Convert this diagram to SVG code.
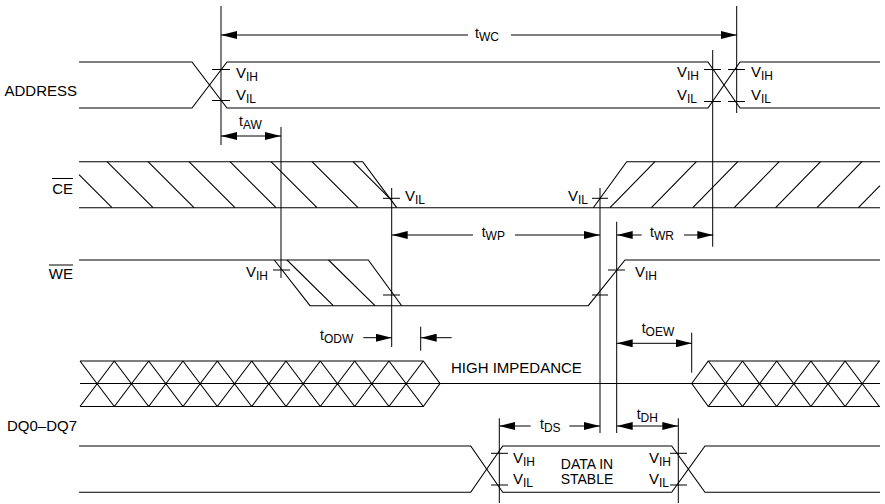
<svg xmlns="http://www.w3.org/2000/svg" width="885" height="504" viewBox="0 0 885 504">
<style>
.s{fill:none;stroke:#000;stroke-width:1.1}
.h{fill:none;stroke:#000;stroke-width:1.1}
.d{fill:none;stroke:#000;stroke-width:1}
text{font-family:"Liberation Sans",Arial,Helvetica,sans-serif;fill:#000}
.lbl{font-size:15px}
.v{font-size:15px}
.t{font-size:14px}
.sub{font-size:12px}
.dim{fill:none;stroke:#000;stroke-width:1;marker-end:url(#ah)}
.dim2{fill:none;stroke:#000;stroke-width:1;marker-start:url(#ah)}
.dim3{fill:none;stroke:#000;stroke-width:1;marker-start:url(#ah);marker-end:url(#ah)}
</style>
<defs>
<marker id="ah" viewBox="0 0 16 8" refX="16" refY="4" markerWidth="16" markerHeight="8" markerUnits="userSpaceOnUse" orient="auto-start-reverse"><path d="M0,0 L16,4 L0,8 z" fill="#000"/></marker>
</defs>
<rect width="885" height="504" fill="#fff"/>

<g id="labels">
<text class="lbl" x="77" y="95.5" text-anchor="end">ADDRESS</text>
<text class="lbl" x="73" y="194" text-anchor="end">CE</text>
<line class="d" x1="52" y1="178.5" x2="73" y2="178.5"/>
<text class="lbl" x="73" y="279" text-anchor="end">WE</text>
<line class="d" x1="49" y1="265" x2="73" y2="265"/>
<text class="lbl" x="77" y="430.5" text-anchor="end">DQ0–DQ7</text>
</g>

<g id="address">
<path class="s" d="M79,62 H192 L227,108 H708 L740,62 H880"/>
<path class="s" d="M79,108 H192 L227,62 H708 L740,108 H880"/>
<path class="d" d="M212,69.5 H230 M212,100.5 H230 M704,69.5 H721 M728,69.5 H745 M704,101.5 H721 M728,101.5 H745"/>
<text class="v" x="236" y="78">V<tspan class="sub" dy="3">IH</tspan></text>
<text class="v" x="236" y="100">V<tspan class="sub" dy="3">IL</tspan></text>
<text class="v" x="677" y="77">V<tspan class="sub" dy="3">IH</tspan></text>
<text class="v" x="677" y="100">V<tspan class="sub" dy="3">IL</tspan></text>
<text class="v" x="751" y="77">V<tspan class="sub" dy="3">IH</tspan></text>
<text class="v" x="751" y="100">V<tspan class="sub" dy="3">IL</tspan></text>
</g>

<g id="ce">
<path class="s" d="M79,161.7 H362.7 L396.7,207.7"/>
<path class="s" d="M79,207.7 H880"/>
<path class="s" d="M593.3,207.7 L626.7,161.7 H880"/>
<path class="h" d="M79,174.7 L112,207.7 M107,161.7 L153,207.7 M148,161.7 L194,207.7 M189,161.7 L235,207.7 M230,161.7 L276,207.7 M271,161.7 L317,207.7 M312,161.7 L358,207.7 M353,161.7 L390.2,198.9"/>
<path class="h" d="M610,207.7 L655,161.7 M651.4,207.7 L696.4,161.7 M692.8,207.7 L737.8,161.7 M734.2,207.7 L779.2,161.7 M775.6,207.7 L820.6,161.7 M817,207.7 L862,161.7 M858.4,207.7 L880,185.6"/>
<path class="d" d="M383,198.3 H400 M592,198.3 H608"/>
<text class="v" x="405" y="201">V<tspan class="sub" dy="3">IL</tspan></text>
<text class="v" x="568" y="201">V<tspan class="sub" dy="3">IL</tspan></text>
</g>

<g id="we">
<path class="s" d="M79,260 H368.3 L401.7,305.7"/>
<path class="s" d="M274.3,260 L310,305.7 H588.3 L625,260 H880"/>
<path class="h" d="M287,260 L333.3,305.7 M328.5,260 L375,305.7"/>
<path class="d" d="M273,270 H290 M383,295 H400 M592,295 H608 M608,270 H625"/>
<text class="v" x="246" y="277">V<tspan class="sub" dy="3">IH</tspan></text>
<text class="v" x="635" y="277">V<tspan class="sub" dy="3">IH</tspan></text>
</g>

<g id="dq-bus">
<path class="s" d="M80,361 H423.3 L440,383.5 L423.3,406.5 H80"/>
<path class="s" d="M80,383.5 H691.7 M691.7,383.5 L708.3,361 H880 M691.7,383.5 L708.3,406.5 H880 M691.7,383.5 H880"/>
<path class="h" d="M80,361 L114.3,406.5 M80,406.5 L114.3,361 M114.3,361 L148.7,406.5 M114.3,406.5 L148.7,361 M148.7,361 L183,406.5 M148.7,406.5 L183,361 M183,361 L217.3,406.5 M183,406.5 L217.3,361 M217.3,361 L251.7,406.5 M217.3,406.5 L251.7,361 M251.7,361 L286,406.5 M251.7,406.5 L286,361 M286,361 L320.3,406.5 M286,406.5 L320.3,361 M320.3,361 L354.7,406.5 M320.3,406.5 L354.7,361 M354.7,361 L389,406.5 M354.7,406.5 L389,361 M389,361 L423.3,406.5 M389,406.5 L423.3,361"/>
<path class="h" d="M708.3,361 L742.5,406.5 M708.3,406.5 L742.5,361 M742.5,361 L776.7,406.5 M742.5,406.5 L776.7,361 M776.7,361 L810.9,406.5 M776.7,406.5 L810.9,361 M810.9,361 L845.1,406.5 M810.9,406.5 L845.1,361 M845.1,361 L879.3,406.5 M845.1,406.5 L879.3,361"/>
<text class="lbl" x="451" y="373.3">HIGH IMPEDANCE</text>
</g>

<g id="dq-data">
<path class="s" d="M79,446 H470.7 L502.7,492.3 H671.7 L705,446 H880"/>
<path class="s" d="M79,492.3 H470.7 L502.7,446 H671.7 L705,492.3 H880"/>
<path class="d" d="M491,453.3 H508 M491,485 H508 M670,453.3 H687 M670,485 H687"/>
<text class="v" x="513" y="463">V<tspan class="sub" dy="3">IH</tspan></text>
<text class="v" x="513" y="484">V<tspan class="sub" dy="3">IL</tspan></text>
<text class="v" x="649" y="463">V<tspan class="sub" dy="3">IH</tspan></text>
<text class="v" x="649" y="484">V<tspan class="sub" dy="3">IL</tspan></text>
<text class="t" x="587" y="469.3" text-anchor="middle">DATA IN</text>
<text class="t" x="587" y="484.3" text-anchor="middle">STABLE</text>
</g>

<g id="connectors">
<path class="d" d="M221,6 V145 M736.7,6 V113 M712.7,50 V246.7 M281,127 V278 M391.7,188 V347 M600,188 V433 M616.7,221.7 V433 M420.7,326.7 V350.7 M691.7,332.7 V372.7 M499.3,418.3 V503 M678.3,418.3 V503"/>
<line class="dim2" x1="221" y1="35" x2="468" y2="35"/>
<line class="dim" x1="511" y1="35" x2="736.7" y2="35"/>
<line class="dim3" x1="221" y1="136" x2="281" y2="136"/>
<line class="dim2" x1="391.7" y1="235" x2="473" y2="235"/>
<line class="dim" x1="515" y1="235" x2="600" y2="235"/>
<line class="dim2" x1="616.7" y1="235" x2="641.7" y2="235"/>
<line class="dim" x1="684" y1="235" x2="713.3" y2="235"/>
<line class="dim" x1="363.3" y1="337.7" x2="391.7" y2="337.7"/>
<line class="dim" x1="451.7" y1="337.7" x2="420.7" y2="337.7"/>
<line class="dim3" x1="616.7" y1="343.3" x2="691.7" y2="343.3"/>
<line class="dim2" x1="499.3" y1="426" x2="530.7" y2="426"/>
<line class="dim" x1="569.3" y1="426" x2="600" y2="426"/>
<line class="dim3" x1="616.7" y1="426" x2="678.3" y2="426"/>
<text class="t" x="475" y="38">t<tspan class="sub" dy="3">WC</tspan></text>
<text class="t" x="239" y="126">t<tspan class="sub" dy="3">AW</tspan></text>
<text class="t" x="481.7" y="237">t<tspan class="sub" dy="3">WP</tspan></text>
<text class="t" x="650" y="237">t<tspan class="sub" dy="3">WR</tspan></text>
<text class="t" x="320" y="340">t<tspan class="sub" dy="3">ODW</tspan></text>
<text class="t" x="641.7" y="333">t<tspan class="sub" dy="3">OEW</tspan></text>
<text class="t" x="540" y="429">t<tspan class="sub" dy="3">DS</tspan></text>
<text class="t" x="636.7" y="419">t<tspan class="sub" dy="3">DH</tspan></text>
</g>
</svg>
